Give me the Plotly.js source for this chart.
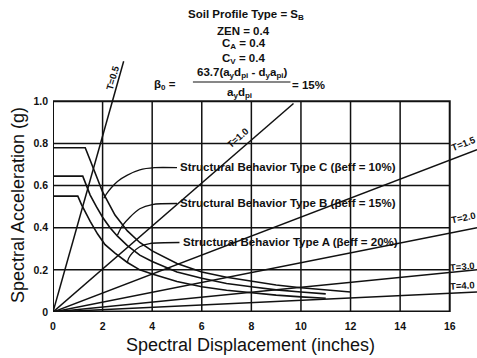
<!DOCTYPE html>
<html>
<head>
<meta charset="utf-8">
<script src="https://cdn.plot.ly/plotly-3.0.1.min.js"></script>
<style>html,body{margin:0;padding:0;background:#fff;}#chart{width:477px;height:358px;}</style>
</head>
<body>
<div id="chart"></div>
<script>
// ---- data ----
const xTicks = [0, 2, 4, 6, 8, 10, 12, 14, 16];
const xTickText = ['0', '2', '4', '6', '8', '10', '12', '14', '16'];
const yTicks = [0, 0.2, 0.4, 0.6, 0.8, 1.0];
const yTickText = ['0', '0.2', '0.4', '0.6', '0.8', '1.0'];

// constant-period lines (from origin to end point)
const periodNames = ['T=0.5', 'T=1.0', 'T=1.5', 'T=2.0', 'T=3.0', 'T=4.0'];
const periodEndSd = [2.85, 9.7, 17.1, 17.1, 17.1, 17.1];
const periodEndSa = [1.19, 0.99, 0.77, 0.40, 0.20, 0.095];
const periodLabelSd = [2.38, 7.45, 16.55, 16.55, 16.5, 16.5];
const periodLabelSa = [1.11, 0.83, 0.80, 0.45, 0.215, 0.125];
const periodLabelAngle = [-74, -41, -21, -12, -5, -3];

// demand spectra
const typeC_sd = [0, 1.3, 1.5, 1.7, 2.0, 2.5, 3.0, 3.5, 4.0, 5.0, 6.0, 7.0, 8.0, 9.0, 10.0, 11.0, 12.0];
const typeC_sa = [0.78, 0.78, 0.72, 0.66, 0.57, 0.46, 0.385, 0.33, 0.29, 0.23, 0.19, 0.165, 0.145, 0.128, 0.115, 0.104, 0.095];
const typeB_sd = [0, 1.2, 1.35, 1.5, 1.75, 2.0, 2.3, 2.6, 3.0, 3.5, 4.0, 5.0, 6.0, 7.0, 8.0, 9.0, 10.0, 11.0];
const typeB_sa = [0.645, 0.645, 0.60, 0.555, 0.50, 0.45, 0.40, 0.36, 0.315, 0.27, 0.24, 0.19, 0.16, 0.135, 0.12, 0.105, 0.095, 0.086];
const typeA_sd = [0, 1.0, 1.15, 1.3, 1.5, 1.8, 2.1, 2.5, 3.0, 3.5, 4.0, 5.0, 6.0, 7.0, 8.0, 9.0, 10.0, 11.0];
const typeA_sa = [0.55, 0.55, 0.51, 0.475, 0.43, 0.37, 0.32, 0.28, 0.235, 0.20, 0.18, 0.145, 0.12, 0.103, 0.09, 0.08, 0.072, 0.065];

// label leader lines
const leaderC_sd = [5.0, 4.1, 3.5, 3.0, 2.6, 2.35, 2.15, 2.05];
const leaderC_sa = [0.685, 0.685, 0.675, 0.65, 0.62, 0.59, 0.56, 0.54];
const leaderB_sd = [5.0, 4.0, 3.5, 3.1, 2.8, 2.6];
const leaderB_sa = [0.515, 0.51, 0.49, 0.45, 0.41, 0.365];
const leaderA_sd = [5.1, 3.9, 3.5, 3.2, 3.05, 3.0];
const leaderA_sa = [0.33, 0.325, 0.31, 0.28, 0.255, 0.235];

const labelNames = ['Structural Behavior Type C (βeff = 10%)',
                    'Structural Behavior Type B (βeff = 15%)',
                    'Structural Behavior Type A (βeff = 20%)'];
const labelSd = [5.05, 5.05, 5.15];
const labelSa = [0.687, 0.517, 0.332];

// ---- build ----
const FONT = 'Liberation Sans, Arial, sans-serif';
const ink = '#111';
const traces = [];
for (let i = 0; i < periodNames.length; i++) {
  traces.push({x: [0, periodEndSd[i]], y: [0, periodEndSa[i]], mode: 'lines',
    line: {color: ink, width: 1.5}, hoverinfo: 'skip', name: periodNames[i]});
}
[[typeC_sd, typeC_sa], [typeB_sd, typeB_sa], [typeA_sd, typeA_sa]].forEach(function (c) {
  traces.push({x: c[0], y: c[1], mode: 'lines', line: {color: ink, width: 1.6}});
});
[[leaderC_sd, leaderC_sa], [leaderB_sd, leaderB_sa], [leaderA_sd, leaderA_sa]].forEach(function (c) {
  traces.push({x: c[0], y: c[1], mode: 'lines', line: {color: ink, width: 1.3, shape: 'spline', smoothing: 0.8}});
});

const shapes = [];
xTicks.slice(1, -1).forEach(function (v) {
  shapes.push({type: 'line', xref: 'x', yref: 'y', x0: v, x1: v, y0: 0, y1: 1.0, line: {color: ink, width: 1.5}});
});
yTicks.slice(1, -1).forEach(function (v) {
  shapes.push({type: 'line', xref: 'x', yref: 'y', x0: 0, x1: 16, y0: v, y1: v, line: {color: ink, width: 1.5}});
});
shapes.push({type: 'rect', xref: 'x', yref: 'y', x0: 0, x1: 16, y0: 0, y1: 1.0, line: {color: ink, width: 2}});
shapes.push({type: 'line', xref: 'x', yref: 'y', x0: 0, x1: 16, y0: 0, y1: 0, line: {color: ink, width: 3}});
// fraction bar
shapes.push({type: 'line', xref: 'paper', yref: 'paper', x0: 0.330, x1: 0.560, y0: 0.895, y1: 0.895, line: {color: ink, width: 1.2}});

const annotations = [];
for (let i = 0; i < periodNames.length; i++) {
  annotations.push({x: periodLabelSd[i], y: periodLabelSa[i], xref: 'x', yref: 'y', text: periodNames[i],
    xanchor: 'center', yanchor: 'middle',
    showarrow: false, textangle: periodLabelAngle[i], font: {family: FONT, size: 9.5, color: ink, weight: 'bold'}});
}
for (let i = 0; i < labelNames.length; i++) {
  annotations.push({x: labelSd[i], y: labelSa[i], xref: 'x', yref: 'y', text: labelNames[i], xanchor: 'left', yanchor: 'middle',
    showarrow: false, font: {family: FONT, size: 11.5, color: ink, weight: 'bold'}});
}
const topFont = {family: FONT, size: 11.5, color: ink, weight: 'bold'};
const topText = [
  ['Soil Profile Type = S<sub>B</sub>', 0.455, 1.156],
  ['ZEN = 0.4', 0.45, 1.095],
  ['C<sub>A</sub> = 0.4', 0.45, 1.043],
  ['C<sub>V</sub> = 0.4', 0.45, 0.985],
  ['63.7(a<sub>y</sub>d<sub>pi</sub> - d<sub>y</sub>a<sub>pi</sub>)', 0.446, 0.93],
  ['a<sub>y</sub>d<sub>pi</sub>', 0.44, 0.852],
  ['β<sub>0</sub> =', 0.265, 0.885],
  ['= 15%', 0.603, 0.882]
];
topText.forEach(function (t) {
  annotations.push({x: t[1], y: t[2], xref: 'paper', yref: 'paper', xanchor: 'center', yanchor: 'middle',
    text: t[0], showarrow: false, font: topFont});
});
// axis titles as paper annotations
annotations.push({x: (250 - 53) / 424, y: (312 - 345) / 257, xref: 'paper', yref: 'paper', xanchor: 'center', yanchor: 'middle',
  text: 'Spectral Displacement (inches)', showarrow: false, font: {family: FONT, size: 18, color: ink}});
annotations.push({x: (18 - 53) / 424, y: (312 - 205) / 257, xref: 'paper', yref: 'paper', xanchor: 'center', yanchor: 'middle',
  textangle: -90, text: 'Spectral Acceleration (g)', showarrow: false, font: {family: FONT, size: 18, color: ink}});

const layout = {
  width: 477, height: 358,
  margin: {l: 53, r: 0, t: 55, b: 46},
  paper_bgcolor: '#fff', plot_bgcolor: '#fff',
  showlegend: false,
  xaxis: {range: [0, 17.1], tickvals: xTicks, ticktext: xTickText, showgrid: false, zeroline: false,
    showline: false, ticks: '', ticklabelstandoff: 6, tickfont: {family: FONT, size: 10.5, color: ink, weight: 'bold'}},
  yaxis: {range: [0, 1.22], tickvals: yTicks, ticktext: yTickText, showgrid: false, zeroline: false,
    showline: false, ticks: '', ticklabelstandoff: 4, tickfont: {family: FONT, size: 10.5, color: ink, weight: 'bold'}},
  shapes: shapes,
  annotations: annotations
};
Plotly.newPlot('chart', traces, layout, {displayModeBar: false, staticPlot: true});
</script>
</body>
</html>
